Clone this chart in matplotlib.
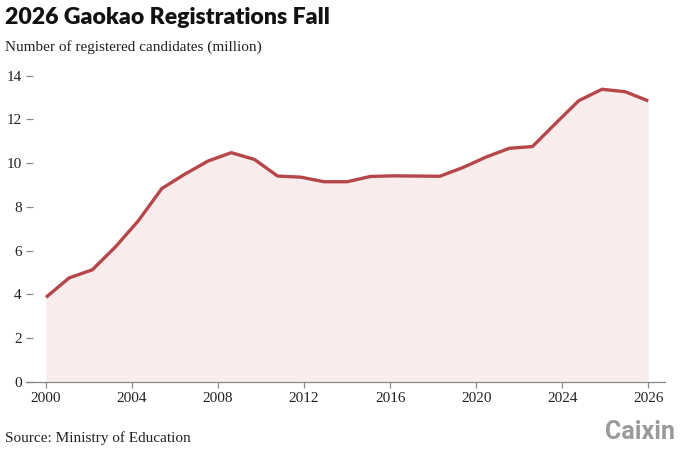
import numpy as np
import matplotlib
matplotlib.use('Agg')
import matplotlib.pyplot as plt

# registered gaokao candidates, million
years = [2000, 2001, 2002, 2003, 2004, 2005, 2006, 2007, 2008, 2009,
         2010, 2011, 2012, 2013, 2014, 2015, 2016, 2017, 2018, 2019,
         2020, 2021, 2022, 2023, 2024, 2025, 2026]
candidates = [3.86, 4.75, 5.12, 6.17, 7.38, 8.84, 9.50, 10.10, 10.48, 10.17,
              9.41, 9.36, 9.15, 9.15, 9.39, 9.42, 9.41, 9.40, 9.80, 10.28,
              10.68, 10.76, 11.82, 12.86, 13.38, 13.27, 12.85]

x_labels = ['2000', '2004', '2008', '2012', '2016', '2020', '2024', '2026']
y_ticks = [0, 2, 4, 6, 8, 10, 12, 14]

line_color = '#b5474a'
fill_color = '#f9eced'
serif = 'Liberation Serif'

fig = plt.figure(figsize=(6.8, 4.53), dpi=100)
ax = fig.add_axes([0.0382, 0.1574, 0.9397, 0.6947])

ax.fill_between(years, candidates, 0, color=fill_color, lw=0)
ax.plot(years, candidates, color=line_color, lw=2.4, solid_joinstyle='round',
        solid_capstyle='butt')

ax.set_xlim(1999.137, 2026.72)
ax.set_ylim(0, 14.4)

# the tick labels sit evenly across the data range
ax.set_xticks(np.linspace(years[0], years[-1], len(x_labels)))
ax.set_xticklabels(x_labels, fontfamily=serif, fontsize=11, color='#222222')
ax.set_yticks(y_ticks)
ax.set_yticklabels([str(t) for t in y_ticks], fontfamily=serif, fontsize=11,
                   color='#222222')

for s in ['top', 'right', 'left']:
    ax.spines[s].set_visible(False)
ax.spines['bottom'].set_color('#888888')
ax.spines['bottom'].set_linewidth(0.9)

ax.tick_params(axis='x', direction='out', length=4.5, width=0.9, color='#888888', pad=3)
ax.tick_params(axis='y', direction='in', length=5, width=0.9, color='#888888', pad=3)

fig.text(0.008, 0.962, '2026 Gaokao Registrations Fall', fontfamily='Lato',
         fontweight='heavy', fontsize=16.6, color='#111111', va='center', ha='left')
fig.text(0.008, 0.897, 'Number of registered candidates (million)', fontfamily=serif,
         fontsize=11, color='#222222', va='center', ha='left')
fig.text(0.008, 0.032, 'Source: Ministry of Education', fontfamily=serif,
         fontsize=11, color='#222222', va='center', ha='left')
fig.text(0.992, 0.046, 'Caixin', fontfamily='Roboto', fontweight='bold',
         fontsize=18, color='#9a9a9a', va='center', ha='right')

fig.savefig('out.png', dpi=100)
